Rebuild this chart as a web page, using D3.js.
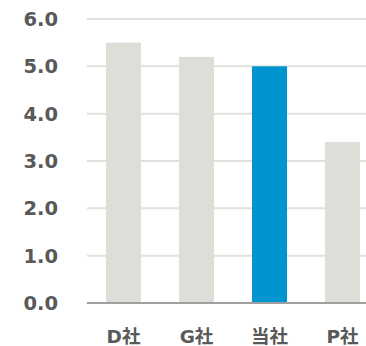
<!DOCTYPE html>
<html>
<head>
<meta charset="utf-8">
<script src="https://cdn.jsdelivr.net/npm/d3@7"></script>
<style>
  html, body { margin: 0; padding: 0; background: #fff; }
  svg { display: block; }
  text { font-family: Verdana, "DejaVu Sans", "Noto Sans CJK JP", sans-serif; font-weight: bold; fill: #595959; }
</style>
</head>
<body>
<svg id="chart" width="366" height="346"></svg>
<script>
// Company names and scores
const companies = ["D社", "G社", "当社", "P社"];
const scores = [5.5, 5.2, 5.0, 3.4];
const highlight = ["当社"];
const yTicks = [0, 1, 2, 3, 4, 5, 6];

const svg = d3.select("#chart");
const plotLeft = 87, plotRight = 366, plotTop = 19, plotBottom = 303;

const x = d3.scaleBand()
  .domain(companies)
  .range([plotLeft, plotLeft + 73 * companies.length])
  .paddingInner(0.52)
  .paddingOuter(0.26);

const y = d3.scaleLinear().domain([0, 6]).range([plotBottom, plotTop]);

// horizontal gridlines
svg.append("g")
  .selectAll("line")
  .data(yTicks.filter(d => d > 0))
  .join("line")
  .attr("x1", plotLeft).attr("x2", plotRight)
  .attr("y1", d => y(d)).attr("y2", d => y(d))
  .attr("stroke", "#e1e0db").attr("stroke-width", 2);

// y tick labels
svg.append("g")
  .selectAll("text")
  .data(yTicks)
  .join("text")
  .attr("x", 58)
  .attr("y", d => y(d))
  .attr("dy", "0.36em")
  .attr("text-anchor", "end")
  .style("font-size", "19.5px")
  .text(d => d3.format(".1f")(d));

// bars
svg.append("g")
  .selectAll("rect")
  .data(companies.map((c, i) => ({ c, v: scores[i] })))
  .join("rect")
  .attr("x", d => x(d.c))
  .attr("width", x.bandwidth())
  .attr("y", d => y(d.v))
  .attr("height", d => y(0) - y(d.v))
  .attr("fill", d => highlight.includes(d.c) ? "#0094d0" : "#deddd8");

// baseline
svg.append("line")
  .attr("x1", plotLeft).attr("x2", plotRight)
  .attr("y1", y(0)).attr("y2", y(0))
  .attr("stroke", "#a0a0a0").attr("stroke-width", 2);

// category labels
svg.append("g")
  .selectAll("text")
  .data(companies)
  .join("text")
  .attr("x", d => x(d) + x.bandwidth() / 2)
  .attr("y", 336)
  .attr("dy", "0.36em")
  .attr("text-anchor", "middle")
  .style("font-size", "18.5px")
  .text(d => d);
</script>
</body>
</html>
